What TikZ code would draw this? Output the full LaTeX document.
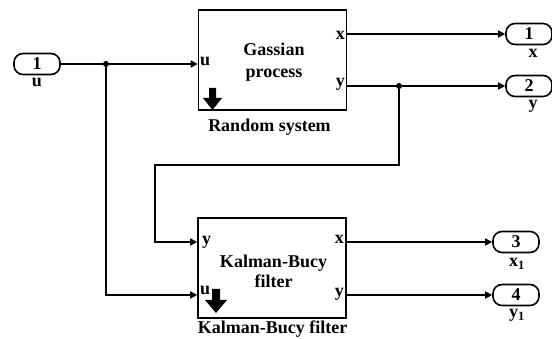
\documentclass[tikz,border=0pt]{standalone}
\usepackage{fontspec}
\setmainfont{Liberation Serif}
\usetikzlibrary{arrows.meta}
\begin{document}
\begin{tikzpicture}[x=1pt,y=-1pt,
  every node/.style={font=\bfseries\fontsize{18}{20}\selectfont, inner sep=0pt},
  blockbox/.style={draw, line width=1.6pt, minimum width=148pt, minimum height=100pt},
  portbox/.style={draw, line width=1.6pt, rounded corners=9pt, minimum width=46pt, minimum height=21pt},
  wire/.style={line width=1.5pt},
  arr/.style={wire, -{Triangle[length=7pt,width=7pt]}},
  jdot/.style={circle, fill=black, minimum size=6pt},
]
\useasboundingbox (0,0) rectangle (552,339);
% blocks
\node[blockbox] (rs) at (272.5,60) {};
\node[blockbox] (kb) at (272,268) {};
\node[align=center, font=\bfseries\fontsize{18}{22}\selectfont] (rst) at (274,62) {Gassian\\process};
\node[align=center] (kbt) at (273.5,271) {Kalman-Bucy\\filter};
\node (rsl) at (269.5,127) {Random system};
\node[anchor=base] (kbl) at (272.5,334) {Kalman-Bucy filter};
% port labels inside blocks
\node[anchor=base west] (rsu) at (200,66) {u};
\node[anchor=base east] (rsx) at (345,40) {x};
\node[anchor=base east] (rsy) at (345,87) {y};
\node[anchor=base west] (kby) at (202,245) {y};
\node[anchor=base west] (kbu) at (200,295) {u};
\node[anchor=base east] (kbx) at (344,244) {x};
\node[anchor=base east] (kbyo) at (344,297) {y};
% down arrows
\fill (209,88) -- (216,88) -- (216,98) -- (222,98) -- (212.5,110) -- (203,98) -- (209,98) -- cycle;
\fill (212,289) -- (220,289) -- (220,300) -- (227,300) -- (216,313) -- (205,300) -- (212,300) -- cycle;
% ports
\node[portbox] (in1) at (37,64) {1};
\node[anchor=base] (in1l) at (37,87) {u};
\node[portbox] (o1) at (529,34) {1};
\node[anchor=base] (o1l) at (533,58) {x};
\node[portbox] (o2) at (529,86) {2};
\node[anchor=base] (o2l) at (533,109) {y};
\node[portbox] (o3) at (516,242) {3};
\node[anchor=base] (o3l) at (517,267) {x\textsubscript{1}};
\node[portbox] (o4) at (516,295) {4};
\node[anchor=base] (o4l) at (517,318) {y\textsubscript{1}};
% junctions
\node[jdot] (j1) at (106,64) {};
\node[jdot] (j2) at (399,86) {};
\coordinate (c1) at (155,165);
% wires
\draw[wire] (in1.east) -- (j1);
\draw[arr] (j1) -- (rs.west |- j1);
\draw[arr] (j1) |- (kb.west |- o4);
\draw[arr] (rs.east |- o1) -- (o1.west);
\draw[wire] (rs.east |- o2) -- (j2);
\draw[arr] (j2) -- (o2.west);
\draw[arr] (j2) |- (c1) |- (kb.west |- o3);
\draw[arr] (kb.east |- o3) -- (o3.west);
\draw[arr] (kb.east |- o4) -- (o4.west);
\end{tikzpicture}
\end{document}
